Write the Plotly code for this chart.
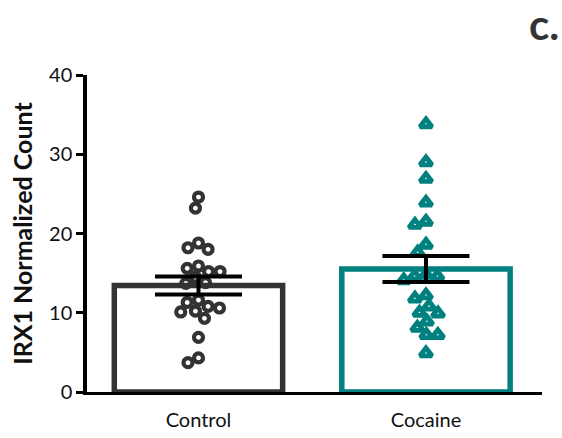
import numpy as np
import plotly.graph_objects as go

categories = ["Control", "Cocaine"]
control_values = [24.6, 23.2, 18.8, 18.2, 18.0, 15.9, 15.6, 15.2, 15.2, 14.5, 13.8, 13.7,
                  11.6, 11.3, 10.8, 10.6, 10.2, 10.1, 9.3, 6.9, 4.3, 3.7]
cocaine_values = [33.8, 29.0, 26.9, 23.9, 21.5, 21.1, 18.6, 17.6, 14.8, 14.6, 14.6, 14.1,
                  12.2, 11.8, 10.8, 10.0, 9.9, 8.9, 8.1, 7.2, 7.2, 4.9]
y_ticks = [0, 10, 20, 30, 40]

groups = [control_values, cocaine_values]
colors = ["#333333", "#00807F"]
symbols = ["circle-open", "triangle-up-open"]

W, H = 562, 438
ML, MR, MT, MB = 87, 20, 75, 46
XR = [-0.49, 1.51]
YR = [0, 40]
plot_w = W - ML - MR
plot_h = H - MT - MB
px_per_x = plot_w / (XR[1] - XR[0])
px_per_y = plot_h / (YR[1] - YR[0])


def beeswarm(values, d):
    """Return x offsets (pixels) so markers of diameter d do not overlap."""
    placed = []
    offs = [0.0] * len(values)
    order = sorted(range(len(values)), key=lambda i: -values[i])
    for i in order:
        y = values[i] * px_per_y
        cands = [0.0]
        for (px, py) in placed:
            dy = abs(py - y)
            if dy < d:
                dx = np.sqrt(d * d - dy * dy)
                cands += [px + dx + 0.01, px - dx - 0.01]
        cands.sort(key=lambda c: (abs(c), c))
        for c in cands:
            if all((c - px) ** 2 + (y - py) ** 2 >= d * d - 0.1 for px, py in placed):
                offs[i] = c
                placed.append((c, y))
                break
    return offs


fig = go.Figure()
means = [float(np.mean(v)) for v in groups]
sems = [float(np.std(v, ddof=1) / np.sqrt(len(v))) for v in groups]

for k, cat in enumerate(categories):
    fig.add_trace(go.Bar(
        x=[k], y=[means[k]], width=0.74,
        marker=dict(color="white", line=dict(color=colors[k], width=5.5)),
        showlegend=False,
    ))

for k, vals in enumerate(groups):
    offs = beeswarm(vals, 11.5)
    fig.add_trace(go.Scatter(
        x=[k + o / px_per_x for o in offs], y=vals, mode="markers",
        marker=dict(symbol=symbols[k], size=9 if k == 0 else 10.5,
                    color=colors[k], line=dict(color=colors[k], width=4.2 if k == 0 else 4.8)),
        showlegend=False, cliponaxis=False,
    ))

fig.add_trace(go.Scatter(
    x=[0, 1], y=means, mode="markers",
    marker=dict(size=1, color="rgba(0,0,0,0)"),
    error_y=dict(type="data", array=sems, color="black", thickness=4, width=43.5),
    showlegend=False, cliponaxis=False,
))

font_family = "Lato, Open Sans, sans-serif"
fig.update_layout(
    width=W, height=H,
    margin=dict(l=ML, r=MR, t=MT, b=MB, pad=0, autoexpand=False),
    plot_bgcolor="white", paper_bgcolor="white",
    font=dict(family=font_family, size=20, color="#111111"),
    barmode="overlay",
    xaxis=dict(range=XR, tickvals=[0, 1], ticktext=categories, showgrid=False,
               zeroline=False, showline=True, linecolor="black", linewidth=3,
               ticks="", ticklabelstandoff=8, tickfont=dict(size=20), automargin=False),
    yaxis=dict(range=YR, tickvals=y_ticks, showgrid=False, zeroline=False,
               showline=True, linecolor="black", linewidth=3.5, ticks="outside",
               ticklen=7, tickwidth=2.5, tickcolor="black", tickfont=dict(size=20),
               automargin=False,
               title=dict(text="<b>IRX1 Normalized Count</b>", font=dict(size=25), standoff=10)),
    annotations=[dict(text="<b>c.</b>", xref="paper", yref="paper", showarrow=False,
                      x=(W - 1 - ML) / plot_w, y=(H - 24 - MB) / plot_h,
                      xanchor="right", yanchor="middle",
                      font=dict(size=42, color="#333333", family=font_family))],
)
fig.write_html("out.html", config={"displayModeBar": False},
               post_script="document.body.style.margin='0px';document.body.style.overflow='hidden';")
